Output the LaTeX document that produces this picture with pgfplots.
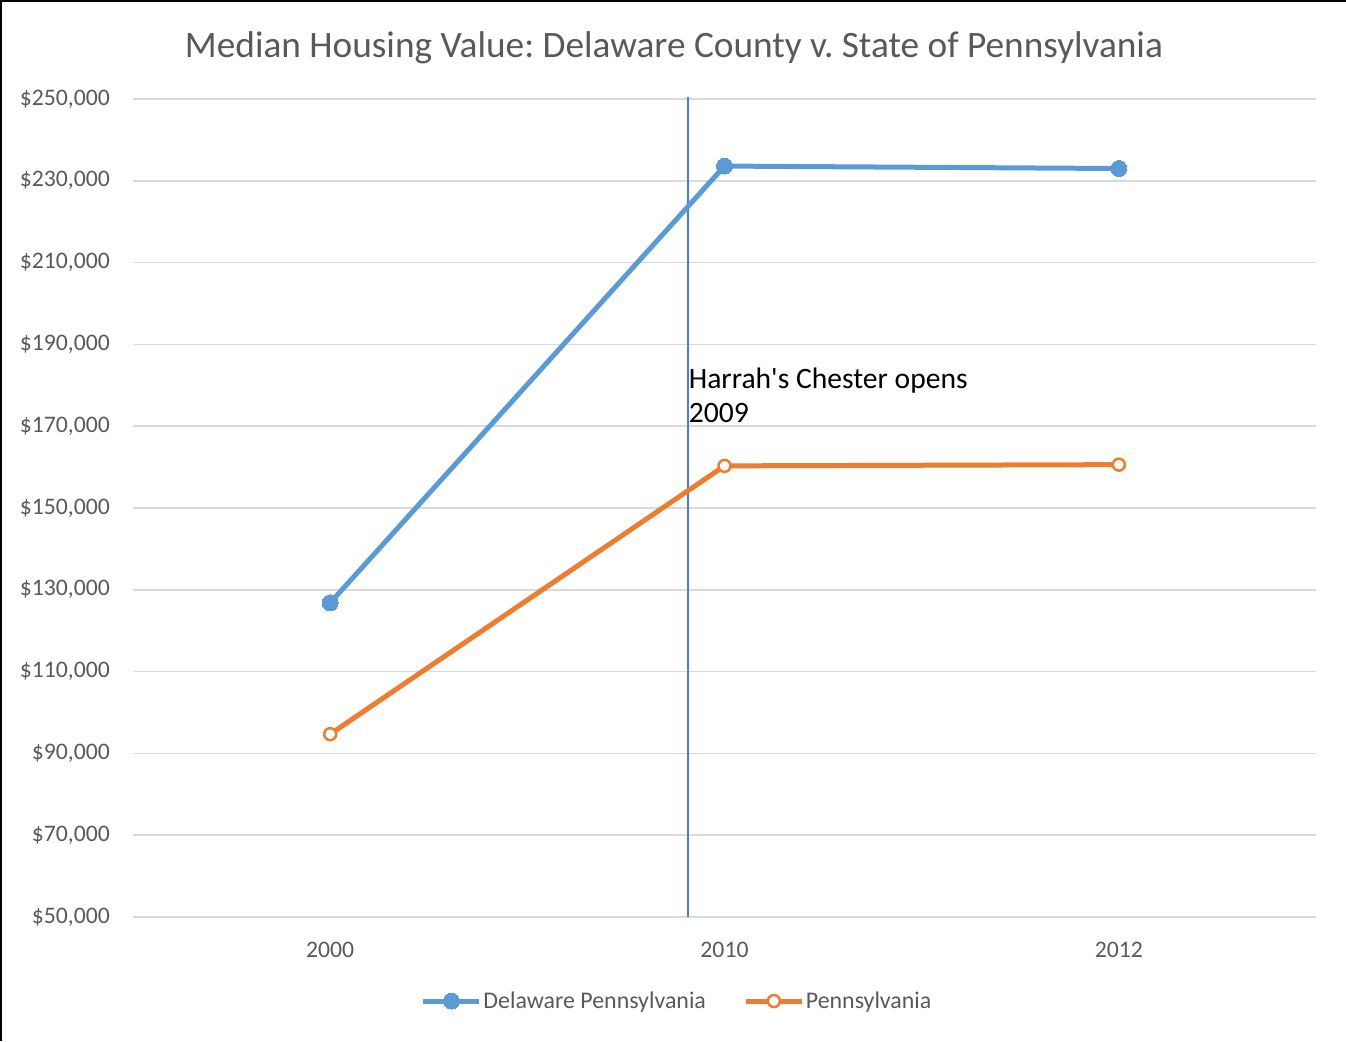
\documentclass[border=0pt]{standalone}
\usepackage{pgfplots}
\pgfplotsset{compat=1.18}
\usepackage{fontspec}
\setmainfont{Carlito}
\frenchspacing
\definecolor{dblue}{HTML}{5B9BD5}
\definecolor{porange}{HTML}{ED7D31}
\definecolor{vline}{HTML}{4A7EC7}
\definecolor{txtgrey}{HTML}{595959}
\definecolor{gridgrey}{HTML}{D9D9D9}
\begin{document}
\begin{tikzpicture}[x=1pt,y=1pt]
\begin{axis}[
  at={(0pt,0pt)}, anchor=south west,
  scale only axis, width=1183pt, height=818pt,
  xmin=-0.5, xmax=2.5, ymin=50000, ymax=250000,
  xtick={0,1,2}, xticklabels={2000,2010,2012},
  scaled y ticks=false,
  ytick={50000,70000,90000,110000,130000,150000,170000,190000,210000,230000,250000},
  yticklabels={{\$50,000},{\$70,000},{\$90,000},{\$110,000},{\$130,000},{\$150,000},{\$170,000},{\$190,000},{\$210,000},{\$230,000},{\$250,000}},
  axis line style={draw=none},
  major tick length=0pt,
  ymajorgrids, grid style={gridgrey, line width=1.5pt},
  yticklabel style={anchor=east, inner sep=0pt, xshift=-23pt, font=\fontsize{23.7}{28}\selectfont, text=txtgrey},
  xticklabel style={anchor=base, inner sep=0pt, yshift=-40pt, font=\fontsize{23.7}{28}\selectfont, text=txtgrey},
  clip=false,
  legend columns=2,
  legend style={draw=none, fill=none, inner sep=0pt, at={(0.4598,-0.1027)}, anchor=center,
    font=\fontsize{23.9}{28}\selectfont, text=txtgrey,
    nodes={inner sep=1.5pt},
    /tikz/every even column/.append style={column sep=36pt}},
  legend image code/.code={\draw[mark repeat=2, mark phase=2, #1] plot coordinates {(0pt,0pt) (28pt,0pt) (56pt,0pt)};},
]
\addplot[vline, line width=1.5pt, forget plot] coordinates {(0.907,50000) (0.907,250500)};
\addplot[dblue, line width=5pt, mark=*, mark size=8pt, mark options={fill=dblue, draw=dblue, line width=0pt}]
  coordinates {(0,126800) (1,233600) (2,233000)};
\addlegendentry{Delaware Pennsylvania}
\addplot[porange, line width=5pt, mark=*, mark size=6pt, mark options={fill=white, draw=porange, line width=2.5pt}]
  coordinates {(0,94700) (1,160300) (2,160600)};
\addlegendentry{Pennsylvania}
\node[anchor=north west, inner sep=0pt, align=left, font=\fontsize{29.6}{34}\selectfont, text=black]
  at (axis cs:0.909,184200) {Harrah\textquotesingle s Chester opens\\2009};
\end{axis}
\node[anchor=base, inner sep=0pt, font=\fontsize{37.3}{40}\selectfont, text=txtgrey] at (541pt,859pt)
  {Median Housing Value: Delaware County v. State of Pennsylvania};
\pgfresetboundingbox
\path[use as bounding box] (-133pt,-124pt) rectangle (1213pt,917pt);
\draw[black, line width=5pt] (-133pt,-124pt) -- (-133pt,917pt) -- (1213pt,917pt);
\end{tikzpicture}
\end{document}
